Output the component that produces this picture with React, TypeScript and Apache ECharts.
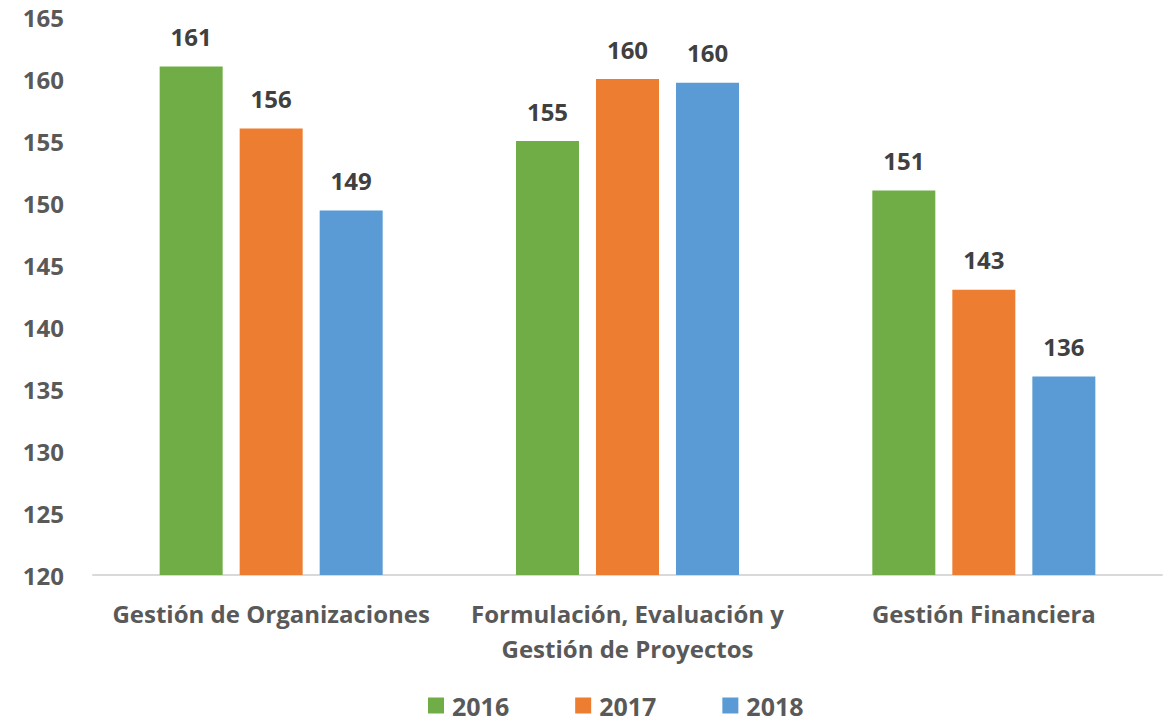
import React, { useEffect, useRef } from "react";
import * as echarts from "echarts";

const categories = [
  "Gestión de Organizaciones",
  "Formulación, Evaluación y\nGestión de Proyectos",
  "Gestión Financiera",
];
const seriesNames = ["2016", "2017", "2018"];
const values2016 = [161, 155, 151];
const values2017 = [156, 160, 143];
const values2018 = [149.4, 159.7, 136];
const colors = ["#70AD47", "#ED7D31", "#5B9BD5"];
const yMin = 120;
const yMax = 165;
const yInterval = 5;

export default function App() {
  const ref = useRef<HTMLDivElement>(null);
  useEffect(() => {
    if (!ref.current) return;
    const chart = echarts.init(ref.current, null, { renderer: "svg" });
    const font = "'Open Sans', sans-serif";
    const data = [values2016, values2017, values2018];
    chart.setOption({
      animation: false,
      textStyle: { fontFamily: font },
      grid: { left: 93, right: 11, top: 17, bottom: 150, containLabel: false },
      legend: {
        data: seriesNames,
        top: 693,
        left: 428,
        padding: 0,
        itemWidth: 16,
        itemHeight: 16,
        itemGap: 66,
        icon: "rect",
        textStyle: {
          fontFamily: font,
          fontSize: 25,
          lineHeight: 24,
          fontWeight: "bold",
          color: "#595959",
          padding: [0, 0, 0, 3],
        },
      },
      xAxis: {
        type: "category",
        data: categories,
        axisLine: { lineStyle: { color: "#D9D9D9", width: 2 } },
        axisTick: { show: false },
        axisLabel: {
          fontFamily: font,
          fontSize: 24,
          fontWeight: "bold",
          color: "#595959",
          margin: 21,
          lineHeight: 35,
          interval: 0,
        },
      },
      yAxis: {
        type: "value",
        min: yMin,
        max: yMax,
        interval: yInterval,
        splitLine: { show: false },
        axisLine: { show: false },
        axisTick: { show: false },
        axisLabel: {
          fontFamily: font,
          fontSize: 24,
          fontWeight: "bold",
          color: "#595959",
          margin: 29,
        },
      },
      series: seriesNames.map((name, i) => ({
        name,
        type: "bar",
        data: data[i],
        barWidth: 63,
        barGap: "27%",
        itemStyle: { color: colors[i] },
        label: {
          show: true,
          position: "top",
          distance: 18,
          fontFamily: font,
          fontSize: 24,
          fontWeight: "bold",
          color: "#404040",
          formatter: (p: any) => String(Math.round(p.value)),
        },
      })),
    });
    return () => chart.dispose();
  }, []);
  return (
    <div
      ref={ref}
      style={{ position: "absolute", left: 0, top: 0, width: 1173, height: 725 }}
    />
  );
}
